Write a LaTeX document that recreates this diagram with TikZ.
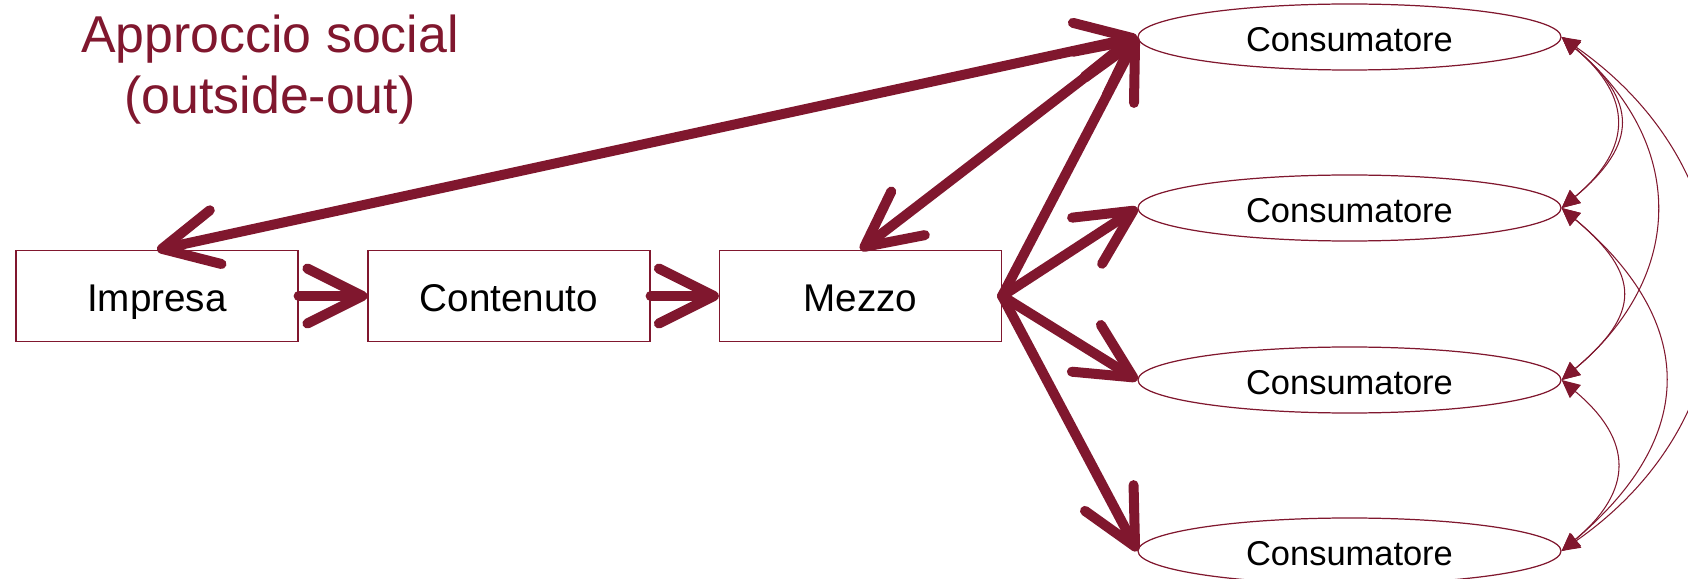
\documentclass[tikz,border=0pt]{standalone}
\usepackage{fontspec}
\setmainfont{Liberation Sans}
\usetikzlibrary{arrows.meta,shapes.geometric}
\definecolor{bordeaux}{RGB}{128,23,46}

\begin{document}
\begin{tikzpicture}[
	titolo/.style={text=bordeaux,align=center,inner sep=0pt,font=\fontsize{29.5}{35}\selectfont},
	blocco/.style={draw=bordeaux,line width=0.7pt,minimum width=5.64cm,minimum height=1.82cm,inner sep=0pt,text height=0.62cm,text depth=0cm,font=\fontsize{22}{26}\selectfont},
	cons/.style={ellipse,draw=bordeaux,line width=0.7pt,minimum width=8.46cm,minimum height=1.32cm,inner sep=0pt,text height=0.59cm,text depth=0cm,font=\fontsize{19.6}{23}\selectfont},
	barb/.tip={Straight Barb[round,length=1.1cm,width=1.1cm]},
	fat/.style={draw=bordeaux,line width=0.2cm,line cap=round,-barb},
	fatboth/.style={fat,barb-barb},
	eco/.style={draw=bordeaux,line width=0.6pt,{Triangle[length=0.36cm,width=0.34cm]}-{Triangle[length=0.36cm,width=0.34cm]}}
	]
	\useasboundingbox (0,0) rectangle (33.76,-11.58);
	\node[titolo,anchor=north] (tit) at (5.4,-0.29) {Approccio social\\(outside-out)};
	\node[blocco] (impresa) at (3.14,-5.92) {Impresa};
	\node[blocco] (contenuto) at (10.18,-5.92) {Contenuto};
	\node[blocco] (mezzo) at (17.21,-5.92) {Mezzo};
	\foreach \i/\y in {1/-0.74,2/-4.16,3/-7.60,4/-11.02}
		\node[cons] (c\i) at (26.99,\y) {Consumatore};
	\draw[fat] (impresa.east) -- (contenuto.west);
	\draw[fat] (contenuto.east) -- (mezzo.west);
	\draw[fatboth] (impresa.north) -- (c1.west);
	\draw[fatboth] (mezzo.north) -- (c1.west);
	\foreach \i in {1,...,4}
		\draw[fat] (mezzo.east) -- (c\i.west);
	\draw[eco] (c1.east) to[out=-40,in=40,looseness=1.40] (c2.east);
	\draw[eco] (c1.east) to[out=-40,in=40,looseness=1.50] (c2.east);
	\draw[eco] (c1.east) to[out=-40,in=40,looseness=1.22] (c3.east);
	\draw[eco] (c1.east) to[out=-35,in=35,looseness=1.21] (c4.east);
	\draw[eco] (c2.east) to[out=-40,in=40,looseness=1.55] (c3.east);
	\draw[eco] (c2.east) to[out=-40,in=40,looseness=1.33] (c4.east);
	\draw[eco] (c3.east) to[out=-40,in=40,looseness=1.41] (c4.east);
\end{tikzpicture}
\end{document}
